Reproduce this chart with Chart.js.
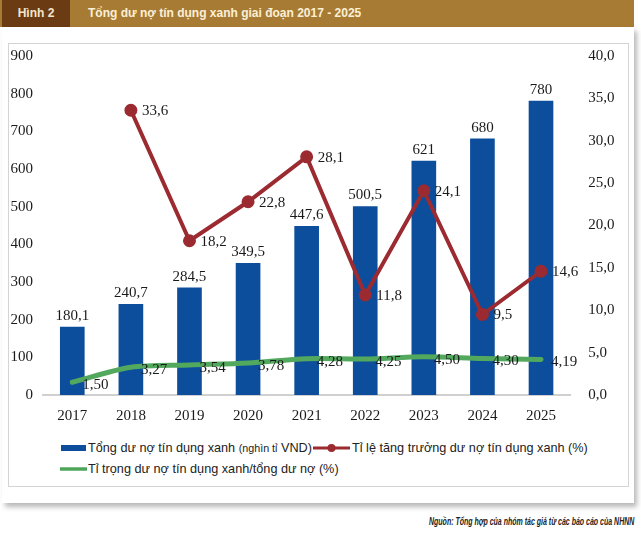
<!DOCTYPE html>
<html>
<head>
<meta charset="utf-8">
<script src="https://cdn.jsdelivr.net/npm/chart.js@4"></script>
<style>
  body { margin: 0; width: 641px; height: 534px; background: #fff; position: relative; overflow: hidden; font-family: "Liberation Sans", Arial, sans-serif; }
  #head { position: absolute; left: 0; top: 0; width: 634px; height: 27px; background: #a87b34; }
  #head .num { position: absolute; left: 2px; top: 0; width: 68px; height: 27px; background: #6b3b13; color: #f3e6cc; font-size: 12px; font-weight: bold; line-height: 27px; text-align: center; }
  #head .title { position: absolute; left: 88px; top: 0; line-height: 27px; color: #fbf0d6; font-size: 12px; font-weight: bold; white-space: nowrap; }
  #card { position: absolute; left: 2px; top: 27px; width: 632px; height: 476px; background: #fff; box-shadow: 3px 4px 5px rgba(0,0,0,0.28); }
  #box { position: absolute; left: 8px; top: 43px; width: 619px; height: 442px; border: 1px solid #d4d4d4; background: #fff; }
  #wrap { position: absolute; left: 8px; top: 43px; width: 620px; height: 390px; }
  .leg { position: absolute; font-size: 13px; color: #222; white-space: nowrap; transform: scaleX(0.975); transform-origin: left center; line-height: 16px; }
  .sm { font-size: 11px; }
  #src { position: absolute; right: 7px; top: 516px; font-size: 10px; font-weight: bold; font-style: italic; color: #222; white-space: nowrap; transform: scaleX(0.7); transform-origin: right center; }
</style>
</head>
<body>
<div id="head"><div class="num">Hình 2</div><div class="title">Tổng dư nợ tín dụng xanh giai đoạn 2017 - 2025</div></div>
<div id="card"></div>
<div id="box"></div>
<div id="wrap"><canvas id="chart"></canvas></div>

<svg style="position:absolute;left:61px;top:445px" width="26" height="7"><rect x="0" y="0" width="25" height="6" fill="#0d4e9c"/></svg>
<div class="leg" style="left:88px;top:440px">Tổng dư nợ tín dụng xanh <span class="sm">(nghìn tỉ</span> VND)</div>
<svg style="position:absolute;left:313px;top:443px" width="38" height="10"><line x1="0" y1="5" x2="37" y2="5" stroke="#9b2b31" stroke-width="3"/><circle cx="18.5" cy="5" r="4" fill="#9b2b31"/></svg>
<div class="leg" style="left:352px;top:440px">Tỉ lệ tăng trưởng dư nợ tín dụng xanh (%)</div>
<svg style="position:absolute;left:60px;top:466px" width="28" height="6"><line x1="0" y1="3" x2="27" y2="3" stroke="#4ea65b" stroke-width="3.5"/></svg>
<div class="leg" style="left:88px;top:461px">Tỉ trọng dư nợ tín dụng xanh/tổng dư nợ (%)</div>

<div id="src">Nguồn: Tổng hợp của nhóm tác giả từ các báo cáo của NHNN</div>

<script>
const years = ["2017", "2018", "2019", "2020", "2021", "2022", "2023", "2024", "2025"];
const creditTotal = [180.1, 240.7, 284.5, 349.5, 447.6, 500.5, 621, 680, 780];
const growthRate = [null, 33.6, 18.2, 22.8, 28.1, 11.8, 24.1, 9.5, 14.6];
const creditShare = [1.50, 3.27, 3.54, 3.78, 4.28, 4.25, 4.50, 4.30, 4.19];
const totalLabels = ["180,1", "240,7", "284,5", "349,5", "447,6", "500,5", "621", "680", "780"];
const growthLabels = [null, "33,6", "18,2", "22,8", "28,1", "11,8", "24,1", "9,5", "14,6"];
const shareLabels = ["1,50", "3,27", "3,54", "3,78", "4,28", "4,25", "4,50", "4,30", "4,19"];

const serif = '"Liberation Serif", "Times New Roman", serif';
const wantTop = 13; // plot top inside the canvas

// draw the value labels next to bars and points
const valueLabels = {
  id: "valueLabels",
  afterDatasetsDraw(chart) {
    const ctx = chart.ctx;
    ctx.save();
    ctx.font = "15px " + serif;
    ctx.fillStyle = "#1a1a1a";
    ctx.textBaseline = "middle";
    chart.getDatasetMeta(0).data.forEach((bar, i) => {
      ctx.textAlign = "center";
      ctx.fillText(totalLabels[i], bar.x, bar.y - 11);
    });
    chart.getDatasetMeta(1).data.forEach((pt, i) => {
      if (growthLabels[i] == null) return;
      ctx.textAlign = "left";
      ctx.fillText(growthLabels[i], pt.x + 11, pt.y + 1);
    });
    chart.getDatasetMeta(2).data.forEach((pt, i) => {
      ctx.textAlign = "left";
      ctx.fillText(shareLabels[i], pt.x + 10, pt.y + 3);
    });
    ctx.restore();
  }
};

const chart = new Chart(document.getElementById("chart"), {
  data: {
    labels: years,
    datasets: [
      {
        type: "bar",
        label: "Tổng dư nợ tín dụng xanh (nghìn tỉ VND)",
        data: creditTotal,
        backgroundColor: "#0d4e9c",
        barThickness: 24,
        yAxisID: "y",
        order: 3
      },
      {
        type: "line",
        label: "Tỉ lệ tăng trưởng dư nợ tín dụng xanh (%)",
        data: growthRate,
        borderColor: "#9b2b31",
        backgroundColor: "#9b2b31",
        borderWidth: 4,
        pointRadius: 4.5,
        pointHoverRadius: 4.5,
        tension: 0,
        yAxisID: "y1",
        order: 1
      },
      {
        type: "line",
        label: "Tỉ trọng dư nợ tín dụng xanh/tổng dư nợ (%)",
        data: creditShare,
        borderColor: "#52a95e",
        borderWidth: 5,
        pointRadius: 0,
        tension: 0.3,
        borderCapStyle: "round",
        yAxisID: "y1",
        order: 2
      }
    ]
  },
  options: {
    responsive: true,
    maintainAspectRatio: false,
    animation: false,
    layout: { padding: { top: wantTop, left: 0, right: 0, bottom: 0 } },
    plugins: { legend: { display: false }, tooltip: { enabled: false } },
    scales: {
      x: {
        grid: { display: false, drawTicks: false },
        border: { color: "#d0d0d0", width: 2 },
        ticks: { font: { family: serif, size: 15 }, color: "#1a1a1a", padding: 12, maxRotation: 0 },
        afterFit(axis) { axis.height = 38; }
      },
      y: {
        position: "left",
        min: 0, max: 900,
        grid: { display: false, drawTicks: false },
        border: { display: false },
        ticks: { stepSize: 100, font: { family: serif, size: 15 }, color: "#1a1a1a", padding: 10 },
        afterFit(axis) { axis.width = 35; axis.paddingTop = 0; axis.paddingBottom = 0; }
      },
      y1: {
        position: "right",
        min: 0, max: 40,
        grid: { display: false, drawTicks: false },
        border: { display: false },
        ticks: {
          stepSize: 5,
          font: { family: serif, size: 15 },
          color: "#1a1a1a",
          padding: 18,
          callback: v => v.toFixed(1).replace(".", ",")
        },
        afterFit(axis) { axis.width = 57.7; axis.paddingTop = 0; axis.paddingBottom = 0; }
      }
    }
  },
  plugins: [valueLabels]
});

// if the layout still pushed the plot down, move the canvas up by the same amount
const wrap = document.getElementById("wrap");
for (let k = 0; k < 3; k++) {
  const extra = chart.chartArea.top - wantTop - (43 - wrap.offsetTop);
  if (Math.abs(extra) < 0.5) break;
  wrap.style.top = (wrap.offsetTop - extra) + "px";
  wrap.style.height = (wrap.offsetHeight + extra) + "px";
  chart.resize();
}
</script>
</body>
</html>
